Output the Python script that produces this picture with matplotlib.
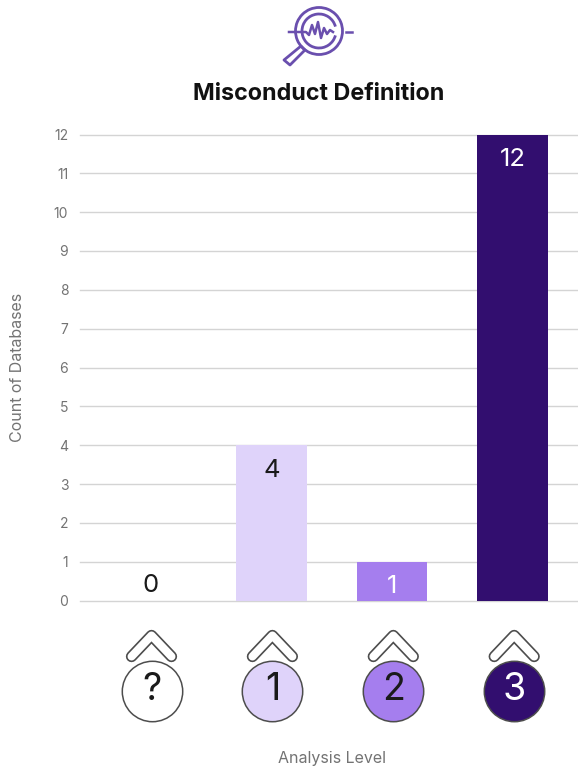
import numpy as np
import matplotlib
matplotlib.use('Agg')
import matplotlib.pyplot as plt
from matplotlib.patches import Arc, Polygon

plt.rcParams['font.family'] = ['Inter', 'DejaVu Sans']

levels = ['?', '1', '2', '3']
counts = [0, 4, 1, 12]
bar_colors = ['#dfd3fa', '#dfd3fa', '#a57eee', '#320e6f']
badge_colors = ['#ffffff', '#dfd3fa', '#a57eee', '#320e6f']
text_colors = ['#1a1a1a', '#1a1a1a', '#ffffff', '#ffffff']
badge_text_colors = ['#1a1a1a', '#1a1a1a', '#1a1a1a', '#ffffff']
yticks = np.arange(0, 13)

W, H = 578, 767
purple = '#6a4fae'
grey = '#737373'
xlim = (-0.589, 3.544)

fig = plt.figure(figsize=(W / 100, H / 100), dpi=100)

def px_axes(left, top, right, bottom):
    return fig.add_axes([left / W, 1 - bottom / H, (right - left) / W, (bottom - top) / H])

# bars
ax = px_axes(80, 134.5, 578, 600.5)
x = np.arange(len(levels))
ax.bar(x, counts, width=0.585, color=bar_colors, zorder=3)
ax.set_xlim(xlim)
ax.set_ylim(0, 12)
ax.set_yticks(yticks)
ax.set_xticks([])
ax.grid(axis='y', color='#d4d4d4', lw=1, zorder=0)
ax.tick_params(axis='y', length=0, pad=8.5, labelsize=10, labelcolor=grey)
for s in ax.spines.values():
    s.set_visible(False)
for yt in ax.get_ygridlines():
    yt.set_clip_on(False)

for i, c in enumerate(counts):
    off = 11 if c == 0 else -18
    ax.annotate(str(c), (i, c), xytext=(0, off), textcoords='offset points',
                ha='center', va='center', fontsize=18.5, color=text_colors[i], zorder=4)

ax.set_ylabel('Count of Databases', fontsize=11.5, color=grey)
ax.yaxis.set_label_coords((25 - 80) / 498, 0.5)

# chevrons and level badges, y in pixels
bx = px_axes(80, 615, 578, 735)
bx.set_xlim((80 - 151.5) / 120.9, (578 - 151.5) / 120.9)
bx.set_ylim(735, 615)
bx.axis('off')
for i, lev in enumerate(levels):
    cx = [i - 0.165, i, i + 0.165]
    cy = [656.5, 635.5, 656.5]
    bx.plot(cx, cy, color='#4d4d4d', lw=8.2, solid_capstyle='round', solid_joinstyle='round', zorder=2)
    bx.plot(cx, cy, color='white', lw=5.8, solid_capstyle='round', solid_joinstyle='round', zorder=3)
    bx.plot([i], [691], 'o', ms=43.5, mfc=badge_colors[i], mec='#4d4d4d', mew=1.1, zorder=4)
    bx.text(i, 690, lev, ha='center', va='center', fontsize=27, color=badge_text_colors[i], zorder=5)

# title and x label
fig.text(318.5 / W, 1 - 94 / H, 'Misconduct Definition', ha='center', va='center',
         fontsize=16.8, fontweight='bold', color='#111111')
fig.text(332 / W, 1 - 758 / H, 'Analysis Level', ha='center', va='center',
         fontsize=11.5, color=grey)

# magnifier icon, in pixels
ic = px_axes(280, 0, 360, 70)
ic.set_xlim(280, 360)
ic.set_ylim(70, 0)
ic.axis('off')
ic.add_patch(Arc((319, 31), 47, 47, theta1=0, theta2=360, color=purple, lw=2))
ic.add_patch(Arc((319, 31), 34, 34, theta1=15, theta2=345, color=purple, lw=2))
wave_x = [289, 306, 309, 312, 315, 318, 321, 324, 327, 330, 333]
wave_y = [32, 32, 35, 25, 34, 22, 38, 28, 34, 30, 32]
ic.plot(wave_x, wave_y, color=purple, lw=1.8, solid_joinstyle='round')
ic.plot([346, 352], [32, 32], color=purple, lw=1.8)
ic.add_patch(Polygon([[301, 46], [305, 50], [290, 65], [284, 60]], closed=True,
                     fill=False, ec=purple, lw=2, joinstyle='round'))

fig.savefig('out.png', dpi=100)
